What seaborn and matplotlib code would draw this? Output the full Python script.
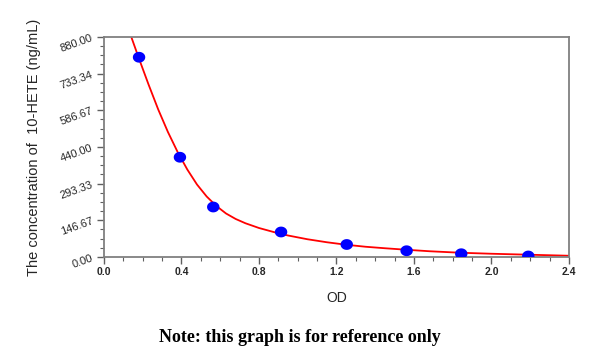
import matplotlib
matplotlib.use("Agg")
import matplotlib.pyplot as plt
import numpy as np
import pandas as pd
import seaborn as sns

# Standard points (OD vs concentration)
od_points = [0.181, 0.392, 0.564, 0.914, 1.253, 1.562, 1.844, 2.190]
conc_points = [799, 399, 200, 100, 50, 25, 13, 4]

# Fitted curve
curve_od = [0.141, 0.18, 0.23, 0.28, 0.33, 0.38, 0.43, 0.48, 0.53, 0.58,
            0.63, 0.68, 0.73, 0.80, 0.88, 0.95, 1.05, 1.15, 1.25, 1.35,
            1.45, 1.56, 1.68, 1.84, 2.00, 2.15, 2.30, 2.40]
curve_conc = [880, 795, 690, 590, 500, 420, 350, 290, 242, 204,
              174, 152, 135, 116, 99, 86, 71, 59, 49, 41,
              35, 29, 23, 17, 13, 10, 7, 5]

y_ticks = [0.0, 146.67, 293.33, 440.00, 586.67, 733.34, 880.00]
y_ticklabels = ["0.00", "146.67", "293.33", "440.00", "586.67", "733.34", "880.00"]
x_ticks = [0.0, 0.4, 0.8, 1.2, 1.6, 2.0, 2.4]
x_ticklabels = ["0.0", "0.4", "0.8", "1.2", "1.6", "2.0", "2.4"]

sns.set_style("white")
plt.rcParams["font.family"] = ["Liberation Sans", "DejaVu Sans"]

fig = plt.figure(figsize=(6.0, 3.52), dpi=100)
ax = fig.add_axes([0.1733, 0.2699, 0.775, 0.625])

pts = pd.DataFrame({"OD": od_points, "Conc": conc_points})
curve = pd.DataFrame({"OD": curve_od, "Conc": curve_conc})

# slightly wide ellipse marker like the original
t = np.linspace(0, 2 * np.pi, 40)
ellipse = np.column_stack([1.15 * np.cos(t), np.sin(t)])

sns.lineplot(data=curve, x="OD", y="Conc", sort=False, color="#ff0000",
             linewidth=1.3, ax=ax, zorder=2)
sns.scatterplot(data=pts, x="OD", y="Conc", color="#0000ff", s=80,
                marker=ellipse, edgecolor="none", ax=ax, zorder=3)

ax.set_xlim(0, 2.4)
ax.set_ylim(0, 880)
ax.set_xticks(x_ticks)
ax.set_xticklabels(x_ticklabels, fontsize=7.5, fontweight="bold")
ax.set_xticks(np.arange(0, 2.41, 0.1), minor=True)
ax.set_yticks(y_ticks)
ax.set_yticklabels(y_ticklabels, fontsize=8, rotation=20)
ax.set_yticks(np.linspace(0, 880, 25), minor=True)

for sp in ax.spines.values():
    sp.set_color("#808080")
    sp.set_linewidth(1.3)
    sp.set_visible(True)

ax.tick_params(which="major", direction="out", length=5, width=1,
               color="#606060", pad=2, bottom=True, left=True)
ax.tick_params(which="minor", direction="out", length=3, width=0.8,
               color="#606060", bottom=True, left=True)

ax.set_xlabel("OD", fontsize=10, labelpad=10)
ax.set_ylabel("The concentration of  10-HETE (ng/mL)", fontsize=10.5, labelpad=13)

fig.text(0.5, 0.04, "Note: this graph is for reference only", ha="center",
         va="center", fontsize=13, fontweight="bold", color="black",
         family=["Liberation Serif", "DejaVu Serif"])

fig.savefig("out.png", dpi=100)
